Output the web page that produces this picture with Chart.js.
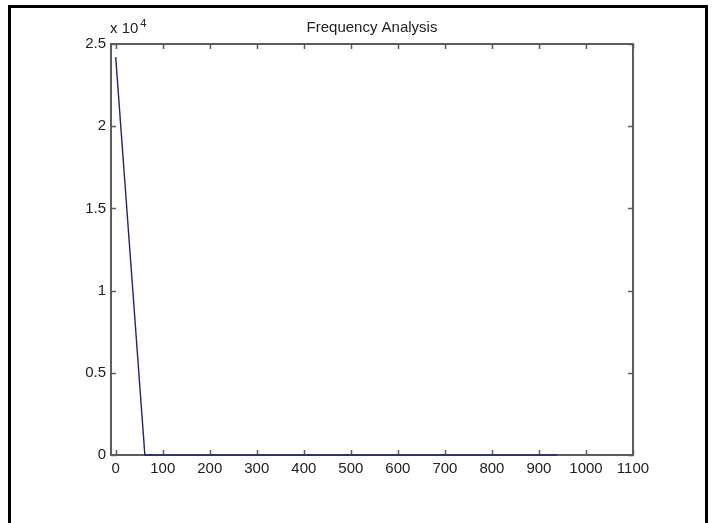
<!DOCTYPE html>
<html>
<head>
<meta charset="utf-8">
<script src="https://cdn.jsdelivr.net/npm/chart.js@4/dist/chart.umd.min.js"></script>
<style>
  html, body { margin: 0; padding: 0; background: #fff; }
  #wrap { width: 713px; height: 523px; }
</style>
</head>
<body>
<div id="wrap"><canvas id="c" width="713" height="523"></canvas></div>
<script>
// ---- data ----
const chartTitle = "Frequency Analysis";
const freq = [0, 62, 938];
const magnitude = [24200, 0, 0];
const xTickValues = [0, 100, 200, 300, 400, 500, 600, 700, 800, 900, 1000, 1100];
const xTickLabels = ["0", "100", "200", "300", "400", "500", "600", "700", "800", "900", "1000", "1100"];
const yTickValues = [0, 5000, 10000, 15000, 20000, 25000];
const yTickLabels = ["0", "0.5", "1", "1.5", "2", "2.5"];
const exponentBase = "x 10";
const exponentPower = "4";

const FONT = '"Liberation Sans", Arial, sans-serif';
const AXIS_COLOR = '#5c5c5c';
const TEXT_COLOR = '#222';

const decor = {
  id: 'decor',
  beforeDraw(chart) {
    const ctx = chart.ctx;
    ctx.save();
    ctx.fillStyle = '#fff';
    ctx.fillRect(0, 0, chart.width, chart.height);
    ctx.strokeStyle = '#000';
    ctx.lineWidth = 3;
    ctx.beginPath();
    ctx.moveTo(9.5, 523);
    ctx.lineTo(9.5, 6.5);
    ctx.lineTo(706.5, 6.5);
    ctx.lineTo(706.5, 523);
    ctx.stroke();
    ctx.restore();
  },
  beforeDatasetsDraw(chart) {
    const ctx = chart.ctx;
    const a = chart.chartArea;
    const xs = chart.scales.x, ys = chart.scales.y;
    ctx.save();
    ctx.strokeStyle = AXIS_COLOR;
    ctx.lineWidth = 2;
    ctx.strokeRect(a.left, a.top, a.right - a.left, a.bottom - a.top);
    ctx.lineWidth = 1.5;
    ctx.beginPath();
    const tl = 5;
    xTickValues.forEach(v => {
      const px = Math.round(xs.getPixelForValue(v)) + 0.5;
      ctx.moveTo(px, a.bottom); ctx.lineTo(px, a.bottom - tl);
      ctx.moveTo(px, a.top); ctx.lineTo(px, a.top + tl);
    });
    yTickValues.forEach(v => {
      const py = Math.round(ys.getPixelForValue(v)) + 0.5;
      ctx.moveTo(a.left, py); ctx.lineTo(a.left + tl, py);
      ctx.moveTo(a.right, py); ctx.lineTo(a.right - tl, py);
    });
    ctx.stroke();
    ctx.restore();
  },
  afterDraw(chart) {
    const ctx = chart.ctx;
    const a = chart.chartArea;
    ctx.save();
    ctx.fillStyle = TEXT_COLOR;
    ctx.font = '15px ' + FONT;
    ctx.textAlign = 'center';
    ctx.textBaseline = 'alphabetic';
    ctx.fillText(chartTitle, (a.left + a.right) / 2, 32);
    ctx.textAlign = 'left';
    ctx.fillText(exponentBase, a.left - 1, 33);
    const w = ctx.measureText(exponentBase).width;
    ctx.font = '11px ' + FONT;
    ctx.fillText(exponentPower, a.left - 1 + w + 2, 27);
    ctx.restore();
  }
};

new Chart(document.getElementById('c'), {
  type: 'line',
  data: {
    datasets: [{
      data: freq.map((f, i) => ({ x: f, y: magnitude[i] })),
      borderColor: '#24246e',
      borderWidth: 1.4,
      pointRadius: 0,
      tension: 0,
      fill: false,
      clip: false
    }]
  },
  options: {
    responsive: false,
    animation: false,
    devicePixelRatio: 1,
    layout: { padding: { top: 44, right: 80, left: 0, bottom: 0 } },
    plugins: { legend: { display: false }, title: { display: false }, tooltip: { enabled: false } },
    scales: {
      x: {
        type: 'linear',
        min: -10,
        max: 1100,
        afterBuildTicks: s => { s.ticks = xTickValues.map(v => ({ value: v })); },
        afterFit: s => { s.height = 68; },
        grid: { display: false, drawTicks: false },
        border: { display: true, color: AXIS_COLOR, width: 2 },
        ticks: {
          color: TEXT_COLOR, font: { family: FONT, size: 15 }, padding: 5, maxRotation: 0, autoSkip: false,
          callback: (v) => { const i = xTickValues.indexOf(v); return i >= 0 ? xTickLabels[i] : ''; }
        }
      },
      y: {
        type: 'linear',
        min: 0,
        max: 25000,
        afterBuildTicks: s => { s.ticks = yTickValues.map(v => ({ value: v })); },
        afterFit: s => { s.width = 111; },
        grid: { display: false, drawTicks: false },
        border: { display: true, color: AXIS_COLOR, width: 2 },
        ticks: {
          color: TEXT_COLOR, font: { family: FONT, size: 15 }, padding: 5, autoSkip: false,
          callback: (v) => { const i = yTickValues.indexOf(v); return i >= 0 ? yTickLabels[i] : ''; }
        }
      }
    }
  },
  plugins: [decor]
});
</script>
</body>
</html>
